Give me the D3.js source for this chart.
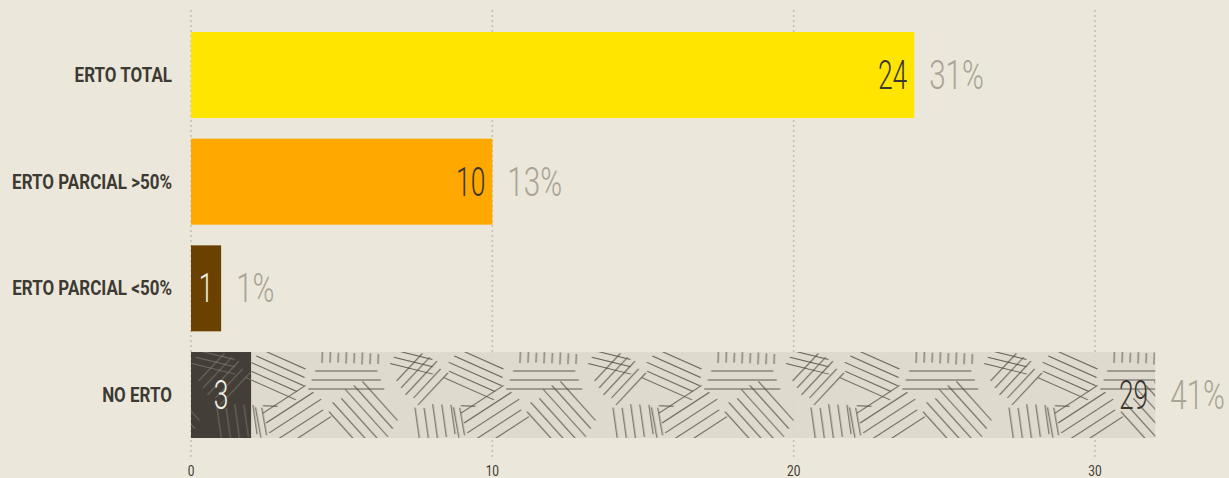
<!DOCTYPE html>
<html>
<head>
<meta charset="utf-8">
<script src="https://cdn.jsdelivr.net/npm/d3@7"></script>
<style>
  html, body { margin: 0; padding: 0; background: #ebe7da; }
  #chart { width: 1229px; height: 478px; overflow: hidden; }
  .cat-label { font-family: Roboto, "DejaVu Sans", sans-serif; font-weight: 700; }
  .num { font-family: Roboto, "Liberation Sans", sans-serif; font-weight: 300; }
  .tick-label { font-family: Roboto, "Liberation Sans", sans-serif; }
</style>
</head>
<body>
<div id="chart"></div>
<script>
// data
const categories = ["ERTO TOTAL", "ERTO PARCIAL >50%", "ERTO PARCIAL <50%", "NO ERTO"];
const barValues = [24, 10, 1];
const barColors = ["#ffe500", "#ffa800", "#6b4100"];
const percentLabels = ["31%", "13%", "1%", "41%"];
// NO ERTO is split in two pieces, drawn as they appear
const noErtoStarts = [0, 2];
const noErtoEnds = [2, 32];
const noErtoLabels = ["3", "29"];
const xTicks = [0, 10, 20, 30];

const width = 1229, height = 478;

const svg = d3.select("#chart").append("svg")
  .attr("width", width)
  .attr("height", height);

const x = d3.scaleLinear().domain([0, 30]).range([191, 1095]);
const y = d3.scaleBand().domain(categories).range([32, 438]).paddingInner(0.194).paddingOuter(0);

// pattern for the NO ERTO bar
const defs = svg.append("defs");
const tileW = 198, tileH = y.bandwidth();
const strokeGroups = [
  { cx: 99, cy: 6, a: 92, n: 8, gap: 8, len: 12 },
  { cx: 95, cy: 28, a: 0, n: 3, gap: 9, len: 76 },
  { cx: 112, cy: 64, a: 48, n: 6, gap: 9, len: 64 },
  { cx: 44, cy: 64, a: -33, n: 5, gap: 10, len: 62 },
  { cx: 26, cy: 22, a: 24, n: 5, gap: 8, len: 58 },
  { cx: 170, cy: 26, a: -47, n: 5, gap: 8, len: 46 },
  { cx: 162, cy: 10, a: 14, n: 3, gap: 7, len: 44 },
  { cx: 184, cy: 70, a: 82, n: 5, gap: 9, len: 36 },
  { cx: 10, cy: 70, a: 80, n: 2, gap: 6, len: 34 },
  { cx: 19, cy: 54, a: 2, n: 1, gap: 0, len: 18 }
];

function makePattern(id, bg, line, op) {
  const p = defs.append("pattern")
    .attr("id", id)
    .attr("patternUnits", "userSpaceOnUse")
    .attr("x", x(2))
    .attr("y", y("NO ERTO"))
    .attr("width", tileW)
    .attr("height", tileH);
  p.append("rect").attr("width", tileW).attr("height", tileH).attr("fill", bg);
  const segs = [];
  strokeGroups.forEach(g => {
    const r = g.a * Math.PI / 180;
    const dx = Math.cos(r), dy = Math.sin(r);
    for (let i = 0; i < g.n; i++) {
      const off = (i - (g.n - 1) / 2) * g.gap;
      const mx = g.cx - dy * off, my = g.cy + dx * off;
      const l = g.len * (0.82 + 0.18 * ((i * 7) % 5) / 4);
      // wrap sideways only, the tile is as tall as the bar
      [-tileW, 0, tileW].forEach(sx => {
        segs.push([mx - dx * l / 2 + sx, my - dy * l / 2, mx + dx * l / 2 + sx, my + dy * l / 2]);
      });
    }
  });
  p.selectAll("line")
    .data(segs)
    .join("line")
    .attr("x1", d => d[0]).attr("y1", d => d[1])
    .attr("x2", d => d[2]).attr("y2", d => d[3])
    .attr("stroke", line)
    .attr("stroke-opacity", op)
    .attr("stroke-width", 1);
}
makePattern("hatch-light", "rgba(221,216,204,0.85)", "#504c45", 0.9);
makePattern("hatch-dark", "#433f38", "#8d887c", 0.6);

// grid
svg.append("g")
  .selectAll("line")
  .data(xTicks)
  .join("line")
  .attr("x1", d => x(d)).attr("x2", d => x(d))
  .attr("y1", 10).attr("y2", 457)
  .attr("stroke", "#c4bfb3")
  .attr("stroke-width", 1.5)
  .attr("stroke-dasharray", "2,3");

svg.append("g")
  .selectAll("text")
  .data(xTicks)
  .join("text")
  .attr("class", "tick-label")
  .attr("text-anchor", "middle")
  .attr("font-size", 14)
  .attr("fill", "#3d3a33")
  .attr("transform", d => `translate(${x(d)},476) scale(0.85,1)`)
  .text(d => d);

// build bar pieces
const pieces = barValues.map((v, i) => ({
  cat: categories[i], start: 0, end: v, label: String(v), fill: barColors[i],
  light: i === 2
}));
noErtoStarts.forEach((s, i) => {
  pieces.push({
    cat: "NO ERTO", start: s, end: noErtoEnds[i], label: noErtoLabels[i],
    fill: i === 0 ? "url(#hatch-dark)" : "url(#hatch-light)",
    light: i === 0
  });
});

svg.append("g")
  .selectAll("rect")
  .data(pieces)
  .join("rect")
  .attr("x", d => x(d.start))
  .attr("y", d => y(d.cat))
  .attr("width", d => x(d.end) - x(d.start))
  .attr("height", y.bandwidth())
  .attr("fill", d => d.fill);

const numSize = 40;

// value labels inside the bars
svg.append("g")
  .selectAll("text")
  .data(pieces)
  .join("text")
  .attr("class", "num")
  .attr("font-size", numSize)
  .attr("fill", d => d.light ? "#f3efe4" : "#3a3731")
  .attr("text-anchor", d => (x(d.end) - x(d.start)) < 80 ? "middle" : "end")
  .attr("transform", d => {
    const w = x(d.end) - x(d.start);
    const px = w < 80 ? (x(d.start) + x(d.end)) / 2 : x(d.end) - 7;
    const py = y(d.cat) + y.bandwidth() / 2 + 14;
    return `translate(${px},${py}) scale(0.66,1)`;
  })
  .text(d => d.label);

// percentages after the bars
const totals = categories.map((c, i) => i < 3 ? barValues[i] : d3.max(noErtoEnds));
svg.append("g")
  .selectAll("text")
  .data(categories)
  .join("text")
  .attr("class", "num")
  .attr("font-size", numSize)
  .attr("fill", "#a9a496")
  .attr("transform", (c, i) => `translate(${x(totals[i]) + 15},${y(c) + y.bandwidth() / 2 + 14}) scale(0.74,1)`)
  .text((c, i) => percentLabels[i]);

// category labels, squeezed to the condensed look of the original
const catG = svg.append("g");
const cats = catG.selectAll("text")
  .data(categories)
  .join("text")
  .attr("class", "cat-label")
  .attr("text-anchor", "end")
  .attr("font-size", 20)
  .attr("fill", "#3d3a33")
  .text(c => c);
const widest = d3.max(cats.nodes(), n => n.getComputedTextLength());
const squeeze = 160 / widest;
cats.attr("transform", c => `translate(172,${y(c) + y.bandwidth() / 2 + 7}) scale(${squeeze},1)`);
</script>
</body>
</html>
